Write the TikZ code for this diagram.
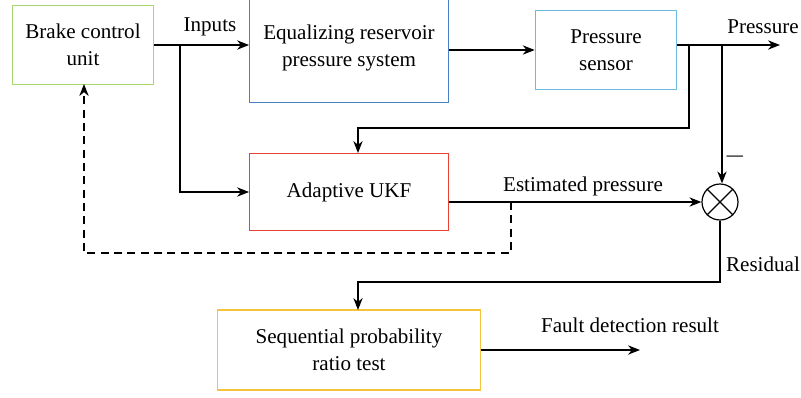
\documentclass[tikz,border=0pt]{standalone}
\usepackage{fontspec}
\setmainfont{Liberation Serif}
\usetikzlibrary{arrows.meta}
\definecolor{bcugreen}{RGB}{168,214,110}
\definecolor{ersblue}{RGB}{74,128,196}
\definecolor{senscyan}{RGB}{106,186,226}
\definecolor{ukfred}{RGB}{232,64,50}
\definecolor{sprtyellow}{RGB}{246,196,60}
\tikzset{
    blk/.style={draw, line width=0.9pt, align=center, font=\fontsize{15.8}{20}\selectfont},
    lbl/.style={font=\fontsize{15.8}{20}\selectfont},
    sig/.style={-{Stealth[length=9pt,width=7pt]}, line width=0.9pt},
}
\begin{document}
\begin{tikzpicture}[x=0.75pt, y=-0.75pt]
        \useasboundingbox (0,0) rectangle (801,397);
        \clip (0,0) rectangle (801,397);

        \node[blk, draw=bcugreen, minimum width=106pt, minimum height=59pt] (bcu) at (83, 45) {Brake control\\unit};
        \node[blk, draw=ersblue, minimum width=149pt, minimum height=82pt] (ers) at (349, 48) {Equalizing reservoir\\pressure system};
        \node[blk, draw=senscyan, minimum width=106pt, minimum height=59pt] (ps) at (606, 50) {Pressure\\sensor};
        \node[blk, draw=ukfred, minimum width=149pt, minimum height=58pt] (ukf) at (349, 192) {Adaptive UKF};
        \node[blk, draw=sprtyellow, minimum width=197pt, minimum height=60pt] (sprt) at (349, 350) {Sequential probability\\ratio test};
        \node[circle, draw, line width=0.9pt, minimum size=27pt, inner sep=0pt] (sum) at (720, 202) {};
        \draw[line width=0.9pt] (sum.north west) -- (sum.south east);
        \draw[line width=0.9pt] (sum.north east) -- (sum.south west);

        \coordinate (split) at (180, 45);
        \coordinate (tapa) at (689, 45);
        \coordinate (tapb) at (722, 45);
        \coordinate (pout) at (780, 45);
        \coordinate (tapc) at (511, 202);
        \coordinate (fout) at (640, 350);

        \draw[sig] (bcu.east |- split) -- (ers.west |- split);
        \draw[sig] (split) |- (ukf.west);
        \draw[sig] (ers.east |- ps.west) -- (ps.west);
        \draw[sig] (ps.east |- pout) -- (pout);
        \draw[sig] (tapa) |- (358, 128) -- (358, 153);
        \draw[sig] (tapb) -- (tapb |- sum.north);
        \draw[sig] (ukf.east |- sum.west) -- (sum.west);
        \draw[sig, dash pattern=on 6pt off 4pt] (tapc) |- (84, 253) -- (84, 84);
        \draw[sig] (sum.south) |- (358, 282) -- (358, 310);
        \draw[sig] (sprt.east) -- (fout);

        \node[lbl] (inputs) at (210, 27) {Inputs};
        \node[lbl] (plabel) at (763, 27) {Pressure};
        \node[lbl, font=\fontsize{20}{20}\selectfont] (minus) at (735, 157) {$-$};
        \node[lbl] (elabel) at (583, 186) {Estimated pressure};
        \node[lbl] (rlabel) at (763, 264) {Residual};
        \node[lbl] (flabel) at (630, 325) {Fault detection result};
    \end{tikzpicture}
\end{document}
